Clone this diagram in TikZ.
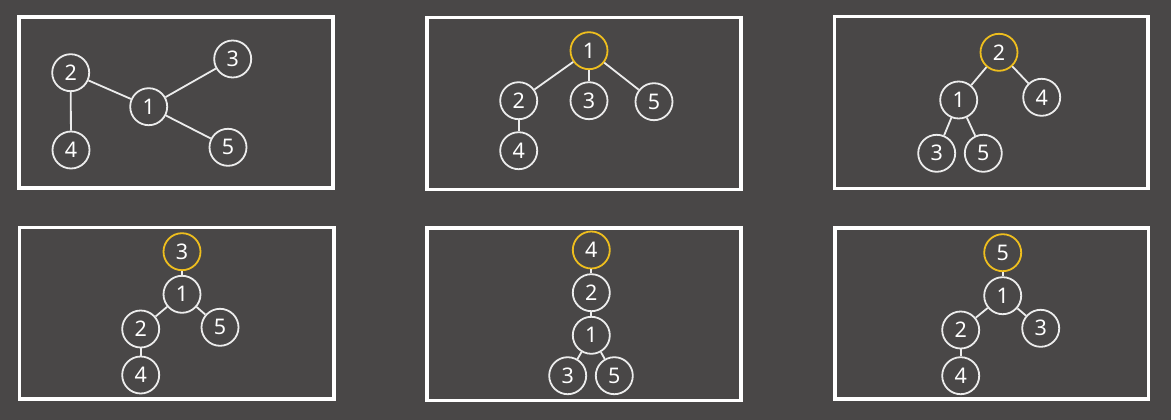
\documentclass[tikz,border=0pt]{standalone}
\usepackage{fontspec}
\setmainfont{Noto Sans}
\definecolor{bg}{RGB}{73,71,71}
\definecolor{gold}{RGB}{238,190,30}
\definecolor{ln}{RGB}{236,236,236}
\begin{document}
\begin{tikzpicture}[x=1pt,y=-1pt,
  vtx/.style={circle,draw=ln,line width=1.8pt,minimum size=37pt,inner sep=0pt,text=white,font=\fontsize{21.5}{21.5}\selectfont},
  root/.style={vtx,draw=gold},
  edge/.style={draw=ln,line width=1.8pt},
  frame/.style={draw=white,line width=3.2pt}]
\fill[bg] (0,0) rectangle (1171,420);
\useasboundingbox (0,0) rectangle (1171,420);
% frames
\draw[frame] (19,17) rectangle (333,188);
\draw[frame] (427,17.5) rectangle (741,189.5);
\draw[frame] (834.5,16.5) rectangle (1148,188.5);
\draw[frame] (19.5,227.5) rectangle (334,399);
\draw[frame] (427,228) rectangle (741,400.5);
\draw[frame] (835,228) rectangle (1148.5,399);
% panel 1
\node[vtx] (a2) at (70.7,72.7) {2};
\node[vtx] (a1) at (148.7,106.7) {1};
\node[vtx] (a3) at (232.7,59) {3};
\node[vtx] (a4) at (71,150) {4};
\node[vtx] (a5) at (228,147.3) {5};
\draw[edge] (a2) -- (a1);
\draw[edge] (a1) -- (a3);
\draw[edge] (a1) -- (a5);
\draw[edge] (a2) -- (a4);
% panel 2
\node[root] (b1) at (589,50.7) {1};
\node[vtx] (b2) at (518.7,100.7) {2};
\node[vtx] (b3) at (589,100.7) {3};
\node[vtx] (b5) at (654,101.7) {5};
\node[vtx] (b4) at (518.7,150.7) {4};
\draw[edge] (b1) -- (b2);
\draw[edge] (b1) -- (b3);
\draw[edge] (b1) -- (b5);
\draw[edge] (b2) -- (b4);
% panel 3
\node[root] (c2) at (999,52.3) {2};
\node[vtx] (c1) at (958.7,100) {1};
\node[vtx] (c4) at (1041.7,97.3) {4};
\node[vtx] (c3) at (936.7,153.3) {3};
\node[vtx] (c5) at (983.3,153.3) {5};
\draw[edge] (c2) -- (c1);
\draw[edge] (c2) -- (c4);
\draw[edge] (c1) -- (c3);
\draw[edge] (c1) -- (c5);
% panel 4
\node[root] (d3) at (182,251.7) {3};
\node[vtx] (d1) at (182,294.3) {1};
\node[vtx] (d2) at (140.7,329) {2};
\node[vtx] (d5) at (220,327.3) {5};
\node[vtx] (d4) at (140.7,375) {4};
\draw[edge] (d3) -- (d1);
\draw[edge] (d1) -- (d2);
\draw[edge] (d1) -- (d5);
\draw[edge] (d2) -- (d4);
% panel 5
\node[root] (e4) at (591.3,250) {4};
\node[vtx] (e2) at (591.3,292.7) {2};
\node[vtx] (e1) at (591.3,335.3) {1};
\node[vtx] (e3) at (567.7,375.7) {3};
\node[vtx] (e5) at (614.3,375.7) {5};
\draw[edge] (e4) -- (e2);
\draw[edge] (e2) -- (e1);
\draw[edge] (e1) -- (e3);
\draw[edge] (e1) -- (e5);
% panel 6
\node[root] (f5) at (1002.7,252.7) {5};
\node[vtx] (f1) at (1002.7,295.7) {1};
\node[vtx] (f2) at (960.7,330) {2};
\node[vtx] (f3) at (1040.7,328.3) {3};
\node[vtx] (f4) at (960.7,375.7) {4};
\draw[edge] (f5) -- (f1);
\draw[edge] (f1) -- (f2);
\draw[edge] (f1) -- (f3);
\draw[edge] (f2) -- (f4);
\end{tikzpicture}
\end{document}
